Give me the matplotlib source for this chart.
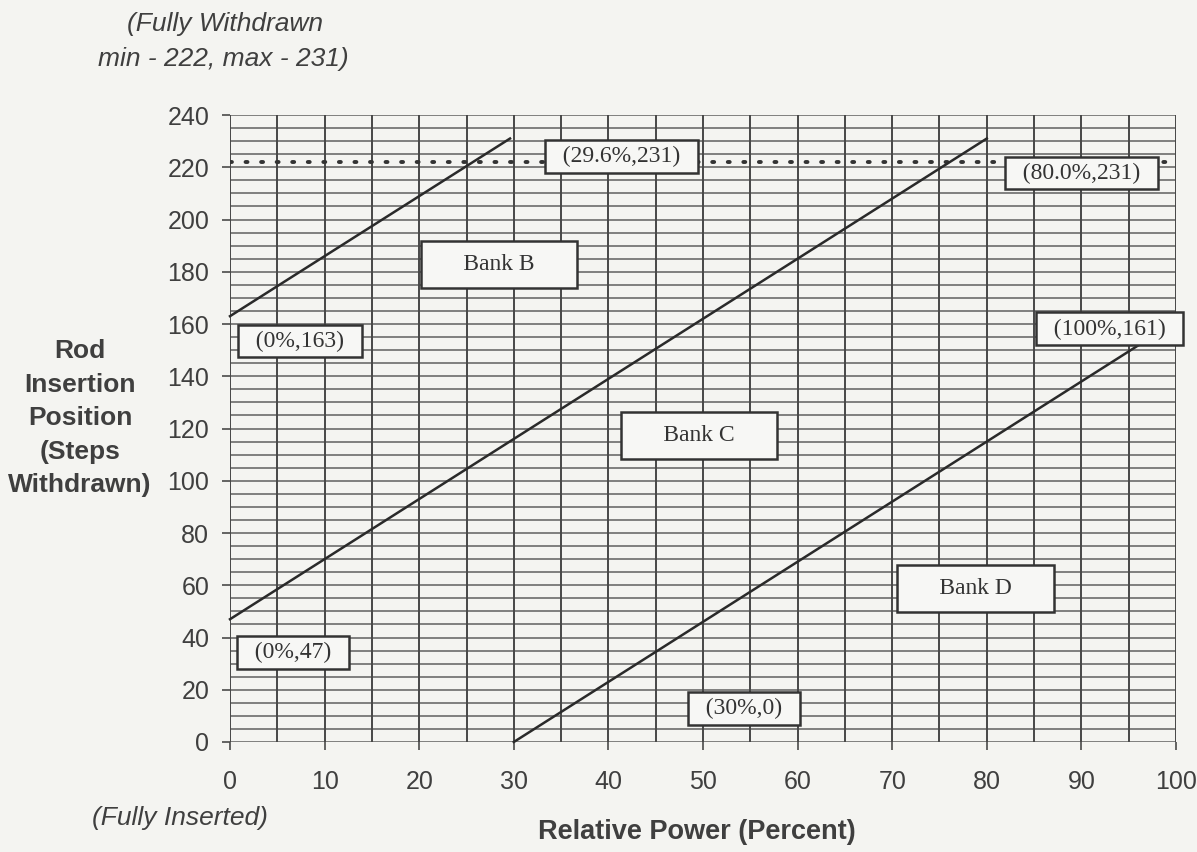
import matplotlib
matplotlib.use("Agg")
import matplotlib.pyplot as plt
import numpy as np

# Data
bank_b_x = [0, 29.6]
bank_b_y = [163, 231]
bank_c_x = [0, 80.0]
bank_c_y = [47, 231]
bank_d_x = [30, 100]
bank_d_y = [0, 161]
withdrawn_min = 222

x_ticks = [0, 10, 20, 30, 40, 50, 60, 70, 80, 90, 100]
y_ticks = [0, 20, 40, 60, 80, 100, 120, 140, 160, 180, 200, 220, 240]

point_labels = ["(29.6%,231)", "(80.0%,231)", "(0%,163)", "(100%,161)", "(0%,47)", "(30%,0)"]
point_label_xy = [(41.4, 224.2), (90.0, 217.8), (7.4, 153.5), (93.0, 158.1), (6.7, 34.1), (54.3, 13.0)]
bank_labels = ["Bank B", "Bank C", "Bank D"]
bank_label_xy = [(28.4, 182.6), (49.6, 117.5), (78.8, 58.9)]

bg = "#f4f4f1"
txt_col = "#3f3f3f"

fig = plt.figure(figsize=(11.97, 8.52), dpi=100, facecolor=bg)
ax = fig.add_axes([0.19215, 0.12911, 0.7903, 0.7359])
ax.set_facecolor(bg)
ax.set_xlim(0, 100)
ax.set_ylim(0, 240)

# grid
for gy in np.arange(0, 241, 5):
    ax.axhline(gy, color="#606060", lw=1.1, zorder=1)
for gx in np.arange(0, 101, 5):
    ax.axvline(gx, color="#474747", lw=1.4, zorder=1)

for s in ax.spines.values():
    s.set_visible(False)

ax.set_xticks(x_ticks)
ax.set_yticks(y_ticks)
ax.tick_params(axis="both", colors="#4a4a4a", labelsize=18, length=6, width=1.2)
ax.tick_params(axis="x", pad=14)
ax.tick_params(axis="y", pad=9)
for lbl in ax.get_xticklabels() + ax.get_yticklabels():
    lbl.set_color(txt_col)
    lbl.set_family("Liberation Sans")

# dotted fully withdrawn line
ax.plot([0, 100], [withdrawn_min, withdrawn_min], color="#333333", lw=2.8,
        linestyle=(0, (0.5, 3.5)), dash_capstyle="round", zorder=2)

# bank lines
for xs, ys in [(bank_b_x, bank_b_y), (bank_c_x, bank_c_y), (bank_d_x, bank_d_y)]:
    ax.plot(xs, ys, color="#2a2a2a", lw=1.8, zorder=3, clip_on=False)

for txt, (x, y) in zip(point_labels, point_label_xy):
    ax.text(x, y, "  " + txt + "  ", ha="center", va="center", fontsize=17,
            family="Liberation Serif", color="#333333", zorder=5,
            bbox=dict(boxstyle="square,pad=0.25", facecolor="#f7f7f5",
                      edgecolor="#333333", lw=1.8))
for txt, (x, y) in zip(bank_labels, bank_label_xy):
    ax.text(x, y, "     " + txt + "     ", ha="center", va="center", fontsize=17,
            family="Liberation Serif", color="#333333", zorder=5,
            bbox=dict(boxstyle="square,pad=0.55", facecolor="#f7f7f5",
                      edgecolor="#333333", lw=1.8))

# annotations outside axes
sans = "Liberation Sans"
fig.text(225 / 1197, 1 - 24 / 852, "(Fully Withdrawn", ha="center", va="center", fontsize=19,
         style="italic", color=txt_col, family=sans)
fig.text(223 / 1197, 1 - 59 / 852, "min - 222, max - 231)", ha="center", va="center", fontsize=19,
         style="italic", color=txt_col, family=sans)
fig.text(80 / 1197, 1 - 418 / 852, "Rod\nInsertion\nPosition\n(Steps\nWithdrawn)", ha="center",
         va="center", fontsize=19, fontweight="bold", color=txt_col, family=sans,
         linespacing=1.5)
fig.text(180 / 1197, 1 - 818 / 852, "(Fully Inserted)", ha="center", va="center", fontsize=19,
         style="italic", color=txt_col, family=sans)
fig.text(697 / 1197, 1 - 832 / 852, "Relative Power (Percent)", ha="center", va="center",
         fontsize=19.5, fontweight="bold", color=txt_col, family=sans)

fig.savefig("out.png", dpi=100, facecolor=bg)
